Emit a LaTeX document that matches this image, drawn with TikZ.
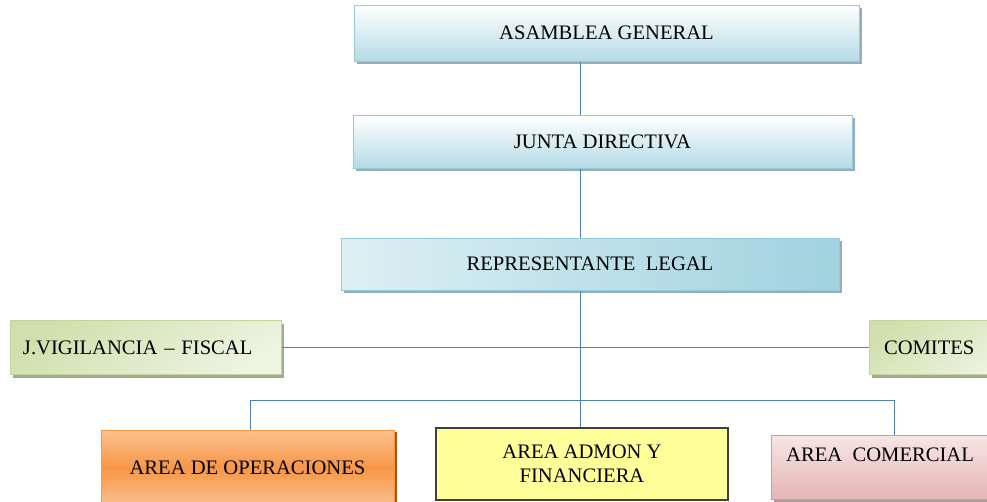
\documentclass[tikz,border=0pt]{standalone}
\usepackage{fontspec}
\setmainfont{Liberation Serif}
\usetikzlibrary{shadows,calc}
\definecolor{bluebd}{HTML}{93CDDD}
\definecolor{bluelt}{HTML}{B4DBE6}
\definecolor{bluemid}{HTML}{DDEFF4}
\definecolor{bluedk}{HTML}{A0D2DF}
\definecolor{shblue}{HTML}{98AEB6}
\definecolor{greenbd}{HTML}{C3D69B}
\definecolor{greendk}{HTML}{CFE0AC}
\definecolor{greenlt}{HTML}{EEF3E2}
\definecolor{shgreen}{HTML}{A2AA90}
\definecolor{orangebd}{HTML}{F79646}
\definecolor{orangelt}{HTML}{FBC190}
\definecolor{orangemd}{HTML}{F79646}
\definecolor{shorange}{HTML}{A8560F}
\definecolor{yellowfill}{HTML}{FFFF99}
\definecolor{yellowbd}{HTML}{3F3F3F}
\definecolor{pinkbd}{HTML}{D99694}
\definecolor{pinklt}{HTML}{F7E6E5}
\definecolor{pinkdk}{HTML}{E4B5B4}
\definecolor{shpink}{HTML}{A9A0A0}
\definecolor{linkblue}{HTML}{4F81BD}
\begin{document}
\begin{tikzpicture}[x=1pt,y=-1pt,
  font=\fontsize{20.6}{24}\selectfont,
  box/.style={draw, line width=1pt, inner sep=0pt, align=center},
  bluebox/.style={box, draw=bluebd, top color=white, bottom color=bluelt,
    drop shadow={fill=shblue, opacity=1, shadow xshift=3pt, shadow yshift=-3pt}},
  greenbox/.style={box, draw=greenbd, top color=greendk, bottom color=greenlt, shading angle=35,
    drop shadow={fill=shgreen, opacity=1, shadow xshift=3pt, shadow yshift=-3pt}},
  link/.style={draw=linkblue, line width=1pt}
]
\useasboundingbox (0,0) rectangle (987,501);
\clip (0,0) rectangle (987,501);

\coordinate (spine) at (580.5,0);
\coordinate (opsdrop) at (250.5,400.5);
\coordinate (comdrop) at (894.5,400.5);

\node[bluebox, minimum width=505pt, minimum height=56pt] (asam) at (606.5,33) {ASAMBLEA GENERAL};
\node[bluebox, minimum width=499pt, minimum height=53pt] (junta) at (602.5,141.5) {JUNTA DIRECTIVA};
\node[bluebox, left color=bluemid, right color=bluedk, minimum width=498pt, minimum height=52pt] (rep) at (590,264) {REPRESENTANTE\ \ LEGAL};

\node[greenbox, minimum width=271pt, minimum height=54pt, text width=245pt, align=left] (vig) at (145.5,347.5) {J.VIGILANCIA -- FISCAL};
\node[greenbox, minimum width=146pt, minimum height=54pt, text width=116pt, align=left] (com) at (942,347.5) {COMITES};

\node[box, draw=orangebd, top color=orangelt, bottom color=orangelt, middle color=orangemd,
  minimum width=293pt, minimum height=76pt,
  drop shadow={fill=shorange, opacity=1, shadow xshift=3pt, shadow yshift=-2pt}] (ops) at (247.5,468) {AREA DE OPERACIONES};
\node[box, draw=yellowbd, fill=yellowfill, line width=1.3pt, minimum width=292pt, minimum height=72pt] (adm) at (582,464) {AREA ADMON Y\\FINANCIERA};
\node[box, draw=pinkbd, top color=pinklt, bottom color=pinkdk,
  minimum width=244pt, minimum height=64pt,
  drop shadow={fill=shpink, opacity=1, shadow xshift=3pt, shadow yshift=-3pt}] (comer) at (893,467) {};
\node[anchor=west, inner sep=0pt] (comertxt) at (786,455) {AREA\ \ COMERCIAL};

\draw[link] (asam.south -| spine) -- (junta.north -| spine);
\draw[link] (junta.south -| spine) -- (rep.north -| spine);
\draw[link] (rep.south -| spine) -- (adm.north -| spine);
\draw[link] (vig.east) -- (com.west);
\draw[link] (ops.north -| opsdrop) -- (opsdrop) -- (comdrop) -- (comer.north -| comdrop);
\end{tikzpicture}
\end{document}
